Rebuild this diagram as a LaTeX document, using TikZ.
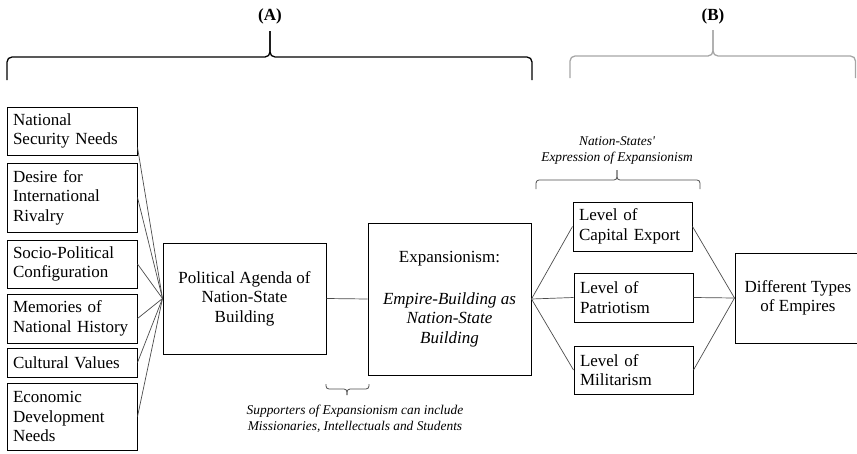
\documentclass[tikz,border=0pt]{standalone}
\usepackage{fontspec}
\setmainfont{Liberation Serif}
\usetikzlibrary{positioning}

\tikzset{
  factor/.style={draw, line width=1pt, text width=118pt, inner xsep=6pt, inner ysep=0pt,
    align=left, font=\fontsize{17}{19.5}\selectfont},
  stage/.style={draw, line width=1pt, align=center, inner sep=0pt,
    font=\fontsize{17}{19.5}\selectfont},
  link/.style={gray!60!black, line width=0.7pt},
  note/.style={font=\fontsize{13.4}{16}\selectfont\itshape, align=center, inner sep=0pt},
  brk/.style={line width=1.3pt, rounded corners=5pt},
  smallbrk/.style={gray!60!black, line width=0.8pt, rounded corners=3pt},
  part/.style={font=\fontsize{17}{19.5}\selectfont\bfseries, inner sep=0pt}
}

\begin{document}
\begin{tikzpicture}[x=1pt, y=-1pt]
  \useasboundingbox (0,0) rectangle (857,453);

  % --- braces and part labels ---
  \draw[brk] (7,80) -- (7,57) -- (270,57) -- (270,31);
  \draw[brk] (532,80) -- (532,57) -- (270,57) -- (270,31);
  \node[part] (partA) at (270,16) {(A)};

  \draw[brk, gray!70] (570,78) -- (570,56) -- (713,56) -- (713,30);
  \draw[brk, gray!70] (855.5,78) -- (855.5,56) -- (713,56) -- (713,30);
  \node[part] (partB) at (713,16) {(B)};

  % --- factors (left column) ---
  \node[factor, minimum height=48pt] (security) at (72,131) {National\\Security Needs};
  \node[factor, minimum height=69pt] (rivalry) at (72,197.5) {Desire for\\International\\Rivalry};
  \node[factor, minimum height=48pt] (socio) at (72,264) {Socio-Political\\Configuration};
  \node[factor, minimum height=49pt] (memory) at (72,318.5) {Memories of\\National History};
  \node[factor, minimum height=29pt] (culture) at (72,362.5) {Cultural Values};
  \node[factor, minimum height=67pt] (economy) at (72,416.5) {Economic\\Development\\Needs};

  % --- middle ---
  \node[stage, minimum width=163pt, minimum height=111pt] (agenda) at (244.5,298.5)
    {Political Agenda of\\Nation-State\\Building};
  \node[stage, minimum width=163pt, minimum height=152pt] (expan) at (449.5,299)
    {Expansionism:\\[22pt]\textit{Empire-Building as}\\\textit{Nation-State}\\\textit{Building}};

  % --- expressions ---
  \node[factor, text width=107pt, minimum height=49pt] (capital) at (632.5,226.5) {Level of\\Capital Export};
  \node[factor, text width=107pt, minimum height=49pt] (patriot) at (633.5,297.5) {Level of\\Patriotism};
  \node[factor, text width=107pt, minimum height=48pt] (milit) at (633.5,370) {Level of\\Militarism};

  \node[stage, minimum width=126pt, minimum height=90pt] (types) at (798,298)
    {Different Types\\of Empires};

  % --- connectors ---
  \draw[link] ([yshift=8pt]security.south east) -- (agenda.west);
  \foreach \f in {rivalry,socio,memory,culture,economy}
    \draw[link] (\f.east) -- (agenda.west);
  \draw[link] (agenda.east) -- (expan.west);
  \foreach \l in {capital,patriot,milit} {
    \draw[link] (expan.east) -- (\l.west);
    \draw[link] (\l.east) -- (types.west);
  }

  % --- annotations ---
  \draw[smallbrk] (536,189) -- (536,180) -- (617,180) -- (617,170);
  \draw[smallbrk] (700,189) -- (700,180) -- (617,180) -- (617,170);
  \node[note] (nationnote) at (617,150) {Nation-States\textquotesingle\\Expression of Expansionism};

  \draw[smallbrk] (326,384) -- (326,389) -- (347,389) -- (347,395);
  \draw[smallbrk] (369,384) -- (369,389) -- (347,389) -- (347,395);
  \node[note] (supporters) at (355,418.5) {Supporters of Expansionism can include\\Missionaries, Intellectuals and Students};
\end{tikzpicture}
\end{document}
